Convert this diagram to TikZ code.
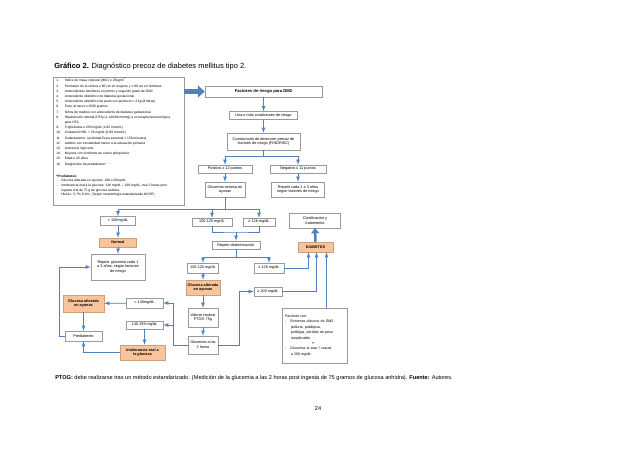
\documentclass[tikz,border=0pt]{standalone}
\usepackage{fontspec}
\setmainfont{Liberation Sans}
\usetikzlibrary{arrows,arrows.meta,shapes,positioning}

\definecolor{lineblue}{HTML}{4F81BD}
\definecolor{boxorange}{HTML}{F9C49A}
\definecolor{orangeedge}{HTML}{C8A080}
\definecolor{boxgray}{HTML}{9A9A9A}

\newcommand{\cajafont}{\fontsize{3.8}{4.8}\selectfont}
\newcommand{\listafont}{\fontsize{3.3}{5.2}\selectfont}
\newcommand{\notafont}{\fontsize{5.6}{6.5}\selectfont}
\newcommand{\titulofont}{\fontsize{7.5}{9}\selectfont}

\begin{document}
\begin{tikzpicture}[x=1pt,y=-1pt]
    \tikzstyle{every node} = [draw=boxgray, shape=rectangle, fill=white, inner sep=0pt, align=center, font=\cajafont, line width=0.5pt]
    \tikzstyle{naranja} = [fill=boxorange, draw=orangeedge, font=\cajafont\bfseries]
    \tikzstyle{texto} = [draw=none, fill=none]
    \tikzstyle{flecha} = [->, >=latex, draw=lineblue, line width=0.8pt]
    \tikzstyle{linea} = [draw=lineblue, line width=0.8pt]

    \fill[white] (0,0) rectangle (638,452);
    \useasboundingbox (0,0) rectangle (638,452);

    \node[texto, anchor=west, font=\titulofont] (Titulo) at (54,67) {\textbf{Gráfico 2.} Diagnóstico precoz  de diabetes mellitus tipo 2.};

    % factores de riesgo
    \node[minimum width=131pt, minimum height=128pt] (Lista) at (118.5,141) {};
    \node[texto, anchor=north west, align=left, font=\listafont] (ListaTxt) at (56,78) {%
    \begin{tabular}{@{}l@{\hspace{4pt}}l@{}}
    1. & Índice de masa corporal (IMC) ≥ 25kg/m\textsuperscript{2}\\
    2. & Perímetro de la cintura ≥ 80 cm en mujeres y ≥ 90 cm en hombres\\
    3. & Antecedentes familiares en primer y segundo grado de DM2\\
    4. & Antecedente obstétrico de diabetes gestacional\\
    5. & Antecedente obstétrico de parto con producto > 4 kg (8 libras)\\
    6. & Peso al nacer ≤ 2500 gramos\\
    7. & Niños de madres con antecedente de diabetes gestacional\\
    8. & Hipertensión arterial (HTA) (≥ 140/90 mmHg) o en terapia farmacológica\\
       & para HTA\\
    9. & Triglicéridos ≥ 250 mg/dL (2.82 mmol/L)\\
    10. & Colesterol HDL < 35 mg/dL (0.90 mmol/L)\\
    11. & Sedentarismo: (actividad física semanal < 150 minutos)\\
    12. & Adultos con escolaridad menor a la educación primaria\\
    13. & Acantosis nigricans\\
    14. & Mujeres con síndrome de ovario poliquístico\\
    15. & Edad ≥ 45 años\\
    16. & Diagnóstico de prediabetes*
    \end{tabular}};
    \node[texto, anchor=north west, align=left, font=\fontsize{3.3}{4.6}\selectfont] (PrediaTxt) at (56,175) {%
    \textbf{*Prediabetes:}\\
    \begin{tabular}{@{}l@{\hspace{4pt}}l@{}}
    - & Glucosa alterada en ayunas: 100-125mg/dL.\\
    - & Intolerancia oral a la glucosa: 140 mg/dL -- 199 mg/dL, tras 2 horas post\\
      & ingesta oral de 75 g de glucosa anhidra.\\
    - & HbA1c: 5.7\%-6.4\%. (Según metodología estandarizada NGSP).
    \end{tabular}};

    % diagrama
    \node[minimum width=117pt, minimum height=11pt, font=\fontsize{4.2}{5}\selectfont\bfseries] (Factores) at (263.5,91.5) {Factores de riesgo para DM2};
    \node[minimum width=68pt, minimum height=8pt] (Una) at (263.5,115.5) {Una o más condiciones de riesgo};
    \node[minimum width=73pt, minimum height=17pt] (Cuest) at (263.5,141.5) {Cuestionario de detección precoz de\\factores de riesgo (FINDRISC)};
    \node[minimum width=54pt, minimum height=8pt] (Pos) at (225,169) {Positivo ≥ 12 puntos};
    \node[minimum width=56pt, minimum height=8pt] (Neg) at (298,169) {Negativo ≤ 11 puntos};
    \node[minimum width=40pt, minimum height=15pt] (GVA) at (225,189.5) {Glucemia venosa en\\ayunas};
    \node[minimum width=53pt, minimum height=15pt] (Rep13) at (298,189.5) {Repetir cada 1 a 3 años\\según factores de riesgo};

    \node[minimum width=35pt, minimum height=9pt] (Lt100) at (118,221) {< 100mg/dL};
    \node[minimum width=40pt, minimum height=8pt] (A100) at (212,222) {100-125 mg/dL};
    \node[minimum width=32pt, minimum height=8pt] (A126) at (259,222) {≥ 126 mg/dL};
    \node[minimum width=51pt, minimum height=15pt] (Clas) at (315,220.5) {Clasificación y\\tratamiento};

    \node[naranja, minimum width=37pt, minimum height=9pt] (Normal) at (118,242.5) {Normal};
    \node[minimum width=48pt, minimum height=8pt] (RepDet) at (236,245) {Repetir determinación};
    \node[naranja, minimum width=35pt, minimum height=10pt] (Diab) at (315.5,247) {DIABETES};
    \node[minimum width=54pt, minimum height=26pt] (RepGlu) at (118,267) {Repetir glucemia cada 1\\a 3 años, según factores\\de riesgo};
    \node[minimum width=31pt, minimum height=10pt] (B100) at (203,268) {100-125 mg/dL};
    \node[minimum width=30pt, minimum height=10pt] (B126) at (269,268) {≥ 126 mg/dL};

    \node[naranja, minimum width=34pt, minimum height=15pt] (GAA2) at (203,287.5) {Glucosa alterada\\en ayunas};
    \node[minimum width=28pt, minimum height=9pt] (Ge200) at (268,291.5) {≥ 200 mg/dL};
    \node[naranja, minimum width=41pt, minimum height=17pt] (GAA1) at (83.5,303.5) {Glucosa alterada\\en ayunas};
    \node[minimum width=37pt, minimum height=10pt] (Lt140) at (144.5,303) {< 140mg/dL};
    \node[minimum width=30pt, minimum height=19pt] (Ptog) at (203,317.5) {Valorar realizar\\PTOG 75g};
    \node[minimum width=37pt, minimum height=8pt] (B140) at (144.5,325) {140-199 mg/dL};
    \node[minimum width=37pt, minimum height=10pt] (Pred) at (83.5,336) {Prediabetes};
    \node[minimum width=30pt, minimum height=18pt] (G2h) at (203,345) {Glucemia a las\\2 horas};
    \node[naranja, minimum width=45pt, minimum height=15pt] (IOG) at (142.5,352.5) {Intolerancia oral a\\la glucosa};
    \node[text width=59pt, inner xsep=3pt, minimum height=55pt, align=left, font=\fontsize{3.6}{5.4}\selectfont] (Pac) at (314.5,335.5) {%
    Paciente con:\\
    -\hspace{4pt}Síntomas clásicos de DM2\\
    \hspace*{6pt}poliuria, polidipsia,\\
    \hspace*{6pt}polifagia, pérdida de peso\\
    \hspace*{6pt}inexplicable.\\
    \hspace*{27pt}\textbf{+}\\
    -\hspace{4pt}Glucemia al azar / casual\\
    \hspace*{6pt}≥ 200 mg/dL};

    \node[texto, anchor=west, font=\notafont] (Nota) at (55,378) {\textbf{PTOG:} debe realizarse tras un método estandarizado. (Medición de la glucemia a las 2 horas post ingesta de 75 gramos de glucosa anhidra). \textbf{Fuente:} Autores.};
    \node[texto, font=\notafont] (Pagina) at (318,409) {24};

    \coordinate (S1) at (263.5,156);
    \coordinate (S2) at (225,209);
    \coordinate (M1) at (236,232);
    \coordinate (S3) at (236,257);
    \coordinate (L1) at (173,0);
    \coordinate (L2) at (59,0);
    \coordinate (R1) at (239,0);

    \draw[lineblue, line width=5pt, -{Triangle[length=7pt,width=12pt]}] (Lista.east |- Factores) -- (Factores.west);
    \draw[flecha] (Factores) -- (Una);
    \draw[flecha] (Una) -- (Cuest);
    \draw[linea] (Cuest.south) -- (S1);
    \draw[flecha] (S1) -| (Pos);
    \draw[flecha] (S1) -| (Neg);
    \draw[flecha] (Pos) -- (GVA);
    \draw[flecha] (Neg) -- (Rep13);

    \draw[linea] (GVA.south) -- (S2);
    \draw[flecha] (S2) -| (Lt100);
    \draw[flecha] (S2) -| (A100);
    \draw[flecha] (S2) -| (A126);
    \draw[linea] (A100.south) |- (M1) -| (A126.south);
    \draw[flecha] (M1) -- (RepDet.north);

    \draw[flecha] (Lt100) -- (Normal);
    \draw[flecha] (Normal) -- (RepGlu);

    \draw[linea] (RepDet.south) -- (S3);
    \draw[flecha] (S3) -| (B100);
    \draw[flecha] (S3) -| (B126);
    \draw[flecha] (B100) -- (GAA2);
    \draw[flecha] (GAA2) -- (Ptog);
    \draw[flecha] (Ptog) -- (G2h);

    \draw[flecha] (B126.east) -| ([xshift=-7pt]Diab.south);
    \draw[flecha] (Ge200.east) -| ([xshift=1pt]Diab.south);
    \draw[flecha] ([xshift=11pt]Diab.south |- Pac.north) -- ([xshift=11pt]Diab.south);
    \draw[lineblue, line width=2.5pt, -{Triangle[length=5pt,width=8pt]}] (Diab.north) -- (Clas.south);

    \draw[flecha] (G2h.east) -| (R1 |- Ge200.west) -- (Ge200.west);
    \draw[flecha] (G2h.west) -| (L1 |- Lt140.east) -- (Lt140.east);
    \draw[flecha] (L1 |- B140.east) -- (B140.east);
    \draw[flecha] (Lt140) -- (GAA1);
    \draw[flecha] (B140.south) -- (B140.south |- IOG.north);
    \draw[flecha] (GAA1) -- (Pred);
    \draw[flecha] (IOG.west) -| (Pred.south);
    \draw[flecha] (Pred.west) -| (L2 |- RepGlu.west) -- (RepGlu.west);
\end{tikzpicture}
\end{document}
